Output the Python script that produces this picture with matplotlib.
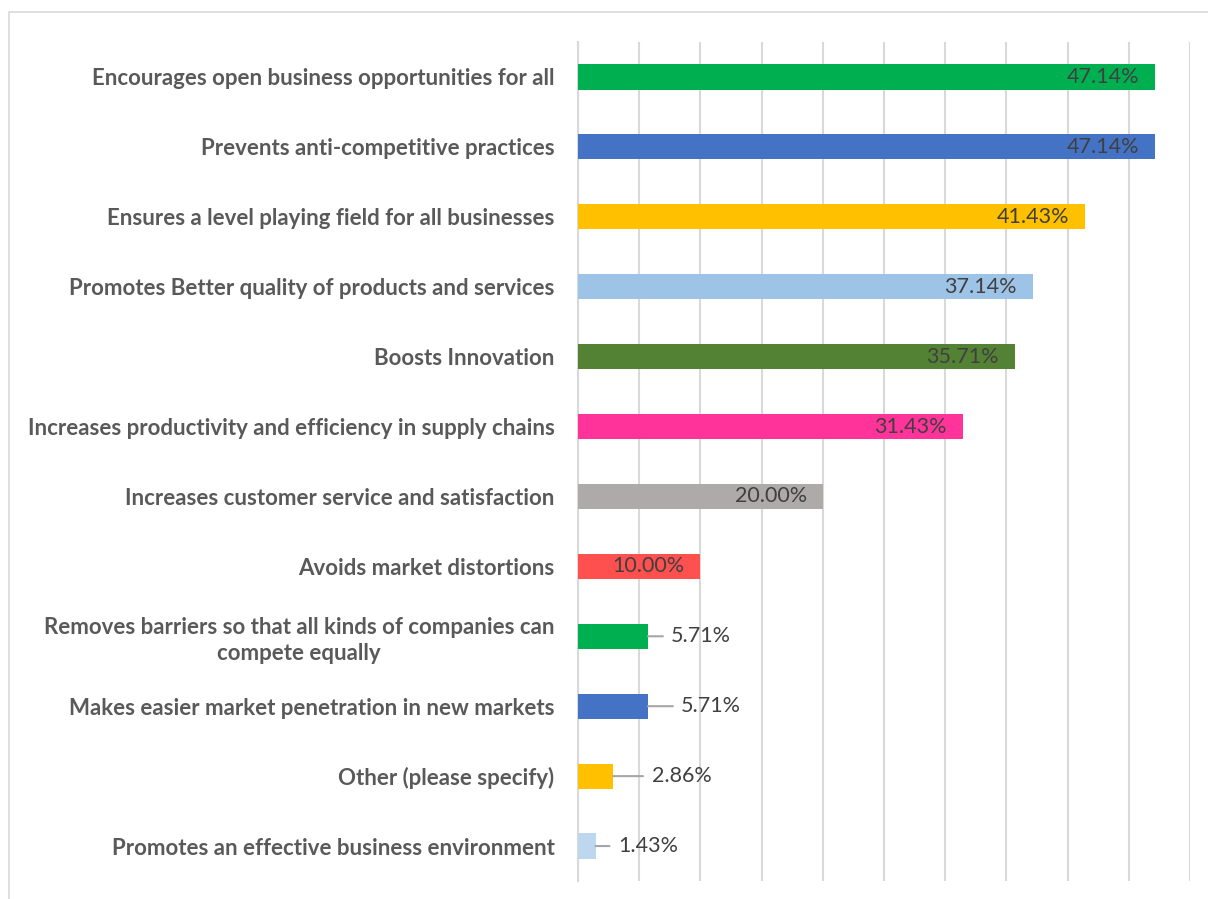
import matplotlib
matplotlib.use("Agg")
import matplotlib.pyplot as plt
from matplotlib.patches import Rectangle

categories = [
    "Encourages open business opportunities for all",
    "Prevents anti-competitive practices",
    "Ensures a level playing field for all businesses",
    "Promotes Better quality of products and services",
    "Boosts Innovation",
    "Increases productivity and efficiency in supply chains",
    "Increases customer service and satisfaction",
    "Avoids market distortions",
    "Removes barriers so that all kinds of companies can\ncompete equally",
    "Makes easier market penetration in new markets",
    "Other (please specify)",
    "Promotes an effective business environment",
]
values = [47.14, 47.14, 41.43, 37.14, 35.71, 31.43, 20.00, 10.00, 5.71, 5.71, 2.86, 1.43]
bar_colors = ["#00B050", "#4472C4", "#FFC000", "#9DC3E6", "#548235", "#FF3399",
              "#AEAAAA", "#FF5050", "#00B050", "#4472C4", "#FFC000", "#BDD7EE"]
# manual outside-label offsets (px) for the small bars: (line end, text start)
outside = {8: (15, 23), 9: (25, 33), 10: (30, 39), 11: (14, 23)}

plt.rcParams["font.family"] = ["Lato", "DejaVu Sans"]

fig = plt.figure(figsize=(12.08, 8.99), dpi=100)
W, H = 1208, 899
ax = fig.add_axes([578 / W, 1 - 881 / H, (1190 - 578) / W, (881 - 42) / H])

# light chart frame
fig.patches.append(Rectangle((9 / W, -0.1), 1.2, (1 - 12 / H) + 0.1, transform=fig.transFigure,
                             fill=False, edgecolor="#D9D9D9", linewidth=1.2))

y = list(range(len(categories)))
ax.barh(y, values, height=0.36, color=bar_colors, zorder=3)

ax.set_xlim(0, 50)
ax.set_ylim(len(categories) - 0.5, -0.5)
ax.set_xticks(range(0, 51, 5))
ax.xaxis.grid(True, color="#D9D9D9", linewidth=1.5, zorder=0)
ax.tick_params(axis="x", length=0, labelbottom=False)
ax.tick_params(axis="y", length=0, pad=17)
ax.set_yticks(y)
ax.set_yticklabels(categories, fontsize=16, fontweight="bold", color="#595959")
for lab in ax.get_yticklabels():
    lab.set_multialignment("center")
    lab.set_linespacing(1.3)
for s in ["top", "right", "bottom"]:
    ax.spines[s].set_visible(False)
ax.spines["left"].set_color("#D9D9D9")
ax.spines["left"].set_linewidth(1.5)

for i, v in enumerate(values):
    txt = f"{v:.2f}%"
    if i in outside:
        le, ts = outside[i]
        ax.annotate("", xy=(v, i), xytext=(le, 0), textcoords="offset pixels",
                    arrowprops=dict(arrowstyle="-", color="#A6A6A6", lw=1.5,
                                    shrinkA=0, shrinkB=0), zorder=4)
        ax.annotate(txt, xy=(v, i), xytext=(ts, 0), textcoords="offset pixels",
                    ha="left", va="center", fontsize=15.5, color="#404040")
    else:
        ax.annotate(txt, xy=(v, i), xytext=(-16, 0), textcoords="offset pixels",
                    ha="right", va="center", fontsize=15.5, color="#404040", zorder=5)

fig.savefig("out.png", dpi=100)
